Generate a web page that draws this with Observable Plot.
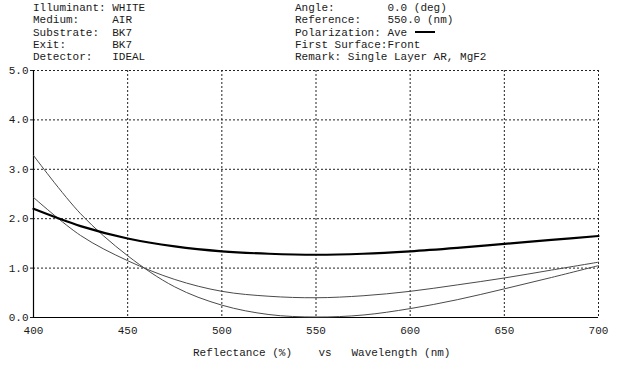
<!DOCTYPE html>
<html>
<head>
<meta charset="utf-8">
<script src="https://cdn.jsdelivr.net/npm/d3@7"></script>
<script src="https://cdn.jsdelivr.net/npm/@observablehq/plot@0.6"></script>
<style>
  html, body { margin: 0; padding: 0; background: #fff; }
  #wrap { position: relative; width: 624px; height: 365px; overflow: hidden; }
  .t { position: absolute; font-family: "Liberation Mono", "DejaVu Sans Mono", monospace; font-size: 11px; line-height: 12px; color: #1a1a1a; white-space: pre; }
  #chart { position: absolute; left: 0; top: 0; }
</style>
</head>
<body>
<div id="wrap">
  <div id="chart"></div>
  <div class="t" id="hl" style="left:33px; top:2px;"></div>
  <div class="t" id="hr" style="left:295px; top:2px;"></div>
  <div class="t" id="cap" style="left:193px; top:347px;"></div>
  <div id="leg" style="position:absolute; left:415px; top:31px; width:20px; height:2px; background:#000;"></div>
</div>
<script>
// Header text
const headerLeft = [
  "Illuminant: WHITE",
  "Medium:     AIR",
  "Substrate:  BK7",
  "Exit:       BK7",
  "Detector:   IDEAL"
];
const headerRight = [
  "Angle:        0.0 (deg)",
  "Reference:    550.0 (nm)",
  "Polarization: Ave",
  "First Surface:Front",
  "Remark: Single Layer AR, MgF2"
];
const caption = "Reflectance (%)    vs   Wavelength (nm)";

// Axis ticks
const xTicks = [400, 450, 500, 550, 600, 650, 700];
const yTicks = [0, 1, 2, 3, 4, 5];

// Data (wavelength in nm, reflectance in %)
const wavelength = [400, 425, 450, 475, 500, 525, 550, 575, 600, 625, 650, 675, 700];
const avePol    = [2.20, 1.85, 1.60, 1.44, 1.34, 1.29, 1.27, 1.29, 1.34, 1.41, 1.49, 1.57, 1.65];
const curveB    = [2.43, 1.66, 1.15, 0.77, 0.53, 0.43, 0.40, 0.44, 0.53, 0.66, 0.80, 0.96, 1.12];
const curveA    = [3.28, 2.10, 1.25, 0.62, 0.25, 0.06, 0.01, 0.05, 0.18, 0.36, 0.58, 0.81, 1.05];

function rows(vals) { return wavelength.map((w, i) => ({w, r: vals[i]})); }

document.getElementById("hl").textContent = headerLeft.map(s => s).join("\n").replace(/\n/g, "\n");
document.getElementById("hr").textContent = headerRight.join("\n");
document.getElementById("cap").textContent = caption;
// line spacing
document.querySelectorAll("#hl, #hr").forEach(el => el.style.lineHeight = "12.3px");

const font = "Liberation Mono";
const plot = Plot.plot({
  width: 624,
  height: 365,
  marginTop: 70,
  marginLeft: 33,
  marginRight: 26,
  marginBottom: 48,
  style: { fontFamily: font, fontSize: "11px", background: "#fff", color: "#1a1a1a" },
  x: { domain: [400, 700], ticks: xTicks, label: null },
  y: { domain: [0, 5], ticks: yTicks, label: null },
  marks: [
    Plot.gridX(xTicks, { stroke: "#222", strokeOpacity: 1, strokeDasharray: "2,2", strokeWidth: 1 }),
    Plot.gridY(yTicks, { stroke: "#222", strokeOpacity: 1, strokeDasharray: "2,2", strokeWidth: 1 }),
    Plot.axisX(xTicks, { tickSize: 0, tickPadding: 9, tickFormat: d => String(d), fontFamily: font, fontSize: 11, label: null }),
    Plot.axisY(yTicks, { tickSize: 3, tickPadding: 2, tickFormat: d => d.toFixed(1), fontFamily: font, fontSize: 11, label: null }),
    Plot.ruleY([0], { stroke: "#000", strokeWidth: 1.2 }),
    Plot.ruleX([400], { stroke: "#000", strokeWidth: 1.2 }),
    Plot.line(rows(curveA), { x: "w", y: "r", stroke: "#4a4a4a", strokeWidth: 1, curve: "catmull-rom" }),
    Plot.line(rows(curveB), { x: "w", y: "r", stroke: "#4a4a4a", strokeWidth: 1, curve: "catmull-rom" }),
    Plot.line(rows(avePol), { x: "w", y: "r", stroke: "#000", strokeWidth: 2.2, curve: "catmull-rom" })
  ]
});
document.getElementById("chart").appendChild(plot);
</script>
</body>
</html>
